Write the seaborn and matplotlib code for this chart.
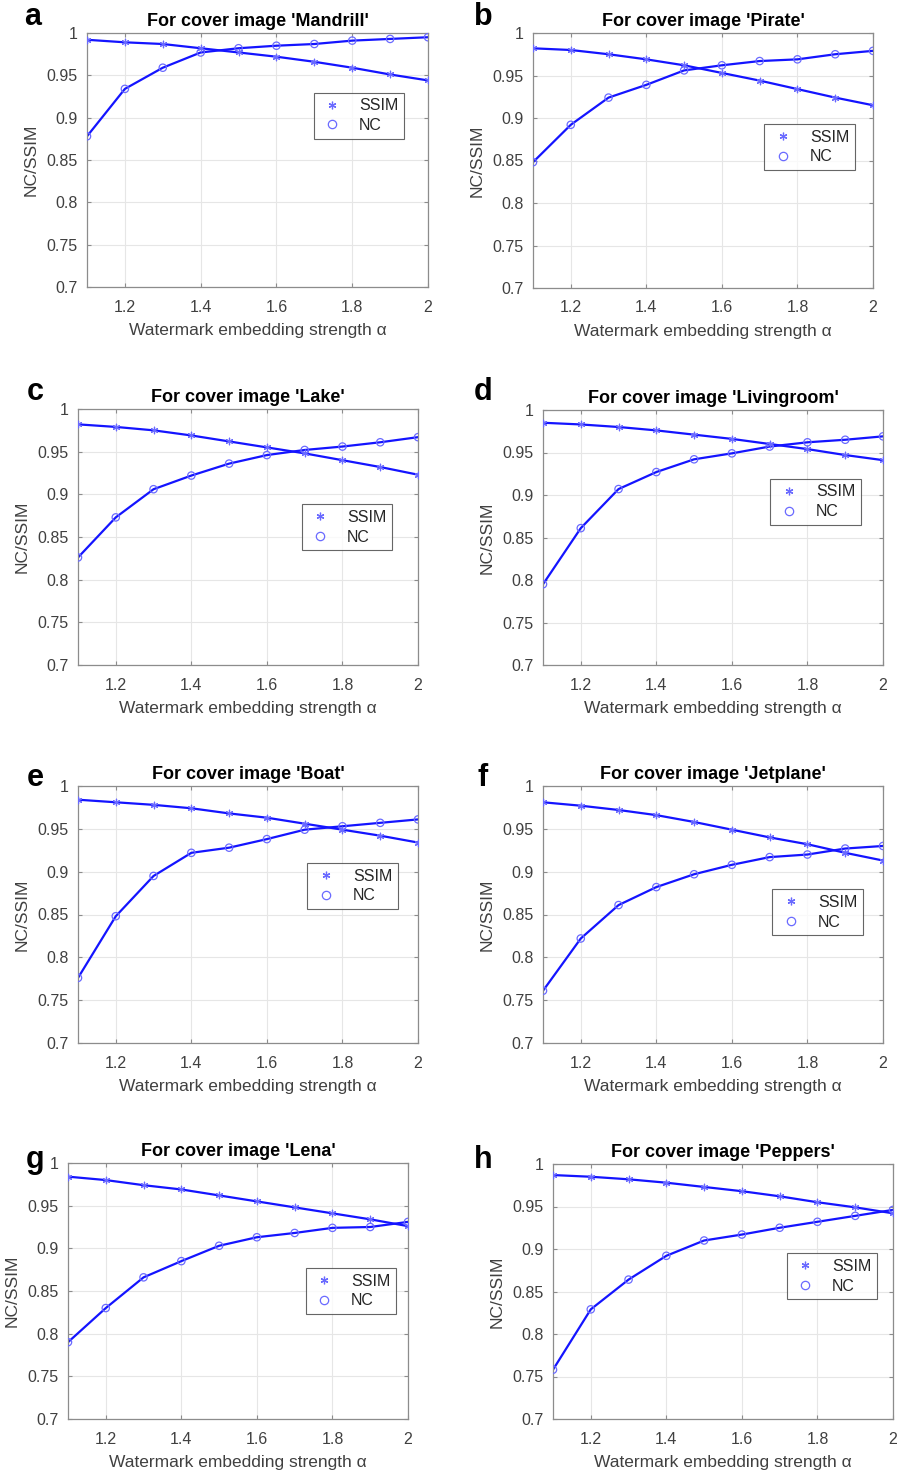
import matplotlib
matplotlib.use("Agg")
import matplotlib.pyplot as plt
import seaborn as sns
import pandas as pd
from matplotlib.lines import Line2D

sns.set_theme(style="white")
plt.rcParams['font.family'] = ['Liberation Sans', 'DejaVu Sans']

alpha = [1.1, 1.2, 1.3, 1.4, 1.5, 1.6, 1.7, 1.8, 1.9, 2.0]

images = ['Mandrill', 'Pirate', 'Lake', 'Livingroom', 'Boat', 'Jetplane', 'Lena', 'Peppers']
letters = ['a', 'b', 'c', 'd', 'e', 'f', 'g', 'h']

ssim_mandrill = [0.992, 0.989, 0.987, 0.982, 0.977, 0.972, 0.966, 0.959, 0.951, 0.944]
nc_mandrill = [0.878, 0.934, 0.959, 0.977, 0.982, 0.985, 0.987, 0.991, 0.993, 0.995]
ssim_pirate = [0.982, 0.980, 0.975, 0.969, 0.962, 0.953, 0.944, 0.934, 0.924, 0.915]
nc_pirate = [0.848, 0.892, 0.924, 0.939, 0.956, 0.962, 0.967, 0.969, 0.975, 0.979]
ssim_lake = [0.982, 0.979, 0.975, 0.969, 0.962, 0.955, 0.948, 0.940, 0.932, 0.923]
nc_lake = [0.826, 0.873, 0.906, 0.922, 0.936, 0.946, 0.952, 0.956, 0.961, 0.967]
ssim_living = [0.985, 0.983, 0.980, 0.976, 0.971, 0.966, 0.960, 0.954, 0.947, 0.941]
nc_living = [0.795, 0.861, 0.907, 0.927, 0.942, 0.949, 0.957, 0.962, 0.965, 0.969]
ssim_boat = [0.984, 0.981, 0.978, 0.974, 0.968, 0.963, 0.956, 0.949, 0.942, 0.934]
nc_boat = [0.776, 0.848, 0.895, 0.922, 0.928, 0.938, 0.949, 0.953, 0.957, 0.961]
ssim_jet = [0.981, 0.977, 0.972, 0.966, 0.958, 0.949, 0.940, 0.932, 0.922, 0.913]
nc_jet = [0.761, 0.822, 0.861, 0.882, 0.897, 0.908, 0.917, 0.920, 0.927, 0.930]
ssim_lena = [0.984, 0.980, 0.974, 0.969, 0.962, 0.955, 0.948, 0.941, 0.934, 0.926]
nc_lena = [0.790, 0.830, 0.866, 0.885, 0.903, 0.913, 0.918, 0.924, 0.925, 0.931]
ssim_peppers = [0.987, 0.985, 0.982, 0.978, 0.973, 0.968, 0.962, 0.955, 0.949, 0.942]
nc_peppers = [0.758, 0.829, 0.864, 0.892, 0.910, 0.917, 0.925, 0.932, 0.939, 0.946]

ssim_all = [ssim_mandrill, ssim_pirate, ssim_lake, ssim_living, ssim_boat, ssim_jet, ssim_lena, ssim_peppers]
nc_all = [nc_mandrill, nc_pirate, nc_lake, nc_living, nc_boat, nc_jet, nc_lena, nc_peppers]

yticks = [0.7, 0.75, 0.8, 0.85, 0.9, 0.95, 1.0]
ytick_labels = ['0.7', '0.75', '0.8', '0.85', '0.9', '0.95', '1']
xticks = [1.2, 1.4, 1.6, 1.8, 2.0]
xtick_labels = ['1.2', '1.4', '1.6', '1.8', '2']

W, H = 900, 1472
# axes boxes in pixels: left, right, top, bottom
boxes = [(87, 428, 33, 287), (533, 873, 33, 288),
         (78, 418, 409, 665), (543, 883, 410, 665),
         (78, 418, 786, 1043), (543, 883, 786, 1043),
         (68, 408, 1163, 1419), (553, 893, 1164, 1419)]
legend_anchor = [(0.93, 0.765), (0.947, 0.643), (0.924, 0.627), (0.935, 0.73),
                 (0.941, 0.70), (0.941, 0.598), (0.965, 0.59), (0.953, 0.65)]
letter_pos = [(33, 17), (483, 17), (35, 392), (483, 392),
              (35, 778), (483, 778), (35, 1160), (483, 1160)]

line_col = '#1414ff'
mk_col = '#6a6aff'
tick_col = '#404040'

fig = plt.figure(figsize=(9, 14.72), dpi=100)
for i in range(8):
    l, r, t, b = boxes[i]
    ax = fig.add_axes([l / W, 1 - b / H, (r - l) / W, (b - t) / H])
    df = pd.DataFrame({'alpha': alpha, 'SSIM': ssim_all[i], 'NC': nc_all[i]})
    sns.lineplot(data=df, x='alpha', y='SSIM', ax=ax, color=line_col, linewidth=1.6, legend=False)
    sns.lineplot(data=df, x='alpha', y='NC', ax=ax, color=line_col, linewidth=1.6, legend=False)
    ax.scatter(df['alpha'], df['SSIM'], marker=(6, 2, 0), s=22, color=mk_col, linewidths=0.9, zorder=3)
    ax.scatter(df['alpha'], df['NC'], marker='o', s=28, facecolors='none', edgecolors=mk_col, linewidths=0.9, zorder=3)
    ax.set_xlim(1.1, 2.0)
    ax.set_ylim(0.7, 1.0)
    ax.set_xticks(xticks)
    ax.set_xticklabels(xtick_labels)
    ax.set_yticks(yticks)
    ax.set_yticklabels(ytick_labels)
    ax.grid(True, color='#e6e6e6', linewidth=0.8)
    ax.set_axisbelow(True)
    for sp in ax.spines.values():
        sp.set_color('#8c8c8c')
        sp.set_linewidth(0.9)
    ax.tick_params(axis='both', direction='in', length=3, width=0.8, color='#8c8c8c',
                   labelsize=11.5, labelcolor=tick_col, top=True, right=True, bottom=True, left=True, pad=7)
    ax.tick_params(axis='x', pad=9)
    ax.set_xlabel('Watermark embedding strength α', fontsize=12.5, color=tick_col, labelpad=6)
    ax.set_ylabel('NC/SSIM', fontsize=12.5, color=tick_col, labelpad=5)
    ax.set_title("For cover image '%s'" % images[i], fontsize=13, fontweight='bold', color='black', pad=5)
    handles = [Line2D([], [], linestyle='none', marker=(6, 2, 0), markersize=5.5, color=mk_col, markeredgewidth=0.9),
               Line2D([], [], linestyle='none', marker='o', markersize=6, markerfacecolor='none',
                      markeredgecolor=mk_col, markeredgewidth=0.9)]
    leg = ax.legend(handles, ['SSIM', 'NC'], loc='upper right', bbox_to_anchor=legend_anchor[i],
                    fontsize=11.5, frameon=True, fancybox=False, handlelength=1.6, handletextpad=0.9,
                    borderpad=0.35, labelspacing=0.3, borderaxespad=0)
    leg.get_frame().set_edgecolor('#404040')
    leg.get_frame().set_linewidth(0.8)
    for txt in leg.get_texts():
        txt.set_color('#262626')
    fig.text(letter_pos[i][0] / W, 1 - letter_pos[i][1] / H, letters[i], fontsize=22, fontweight='bold',
             ha='center', va='center', color='black')

fig.savefig('out.png', dpi=100, facecolor='white')
